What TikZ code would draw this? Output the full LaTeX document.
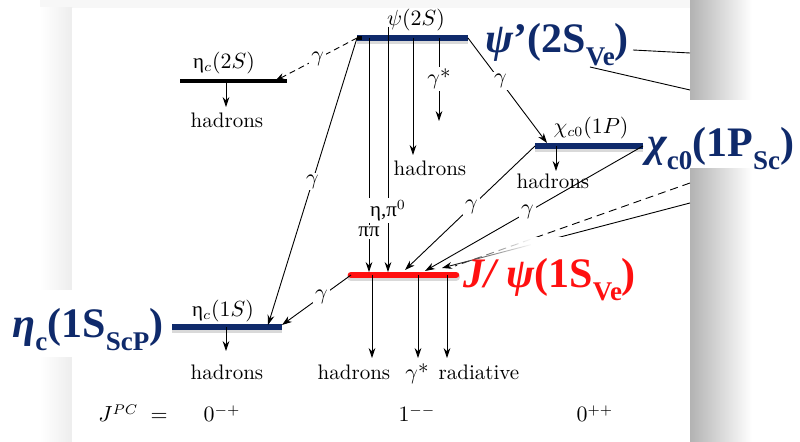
\documentclass[tikz,border=0pt]{standalone}
\usepackage{fontspec}
\usetikzlibrary{arrows.meta,positioning,fadings}
\newfontfamily\labfont{Liberation Serif}
\definecolor{levblue}{HTML}{0F2A6B}
\definecolor{levred}{HTML}{FF1010}
\newcommand{\lsub}[1]{\raisebox{-0.3em}{\fontsize{13.5}{14}\selectfont #1}}
\newcommand{\ug}[1]{{\labfont #1}}
\tikzfading[name=glowfade,left color=transparent!100,right color=transparent!0]

\begin{document}
\begin{tikzpicture}[x=0.5pt,y=-0.5pt,
			lev/.style={line width=2.6pt,levblue,preaction={draw=gray!30,line width=3.8pt,transform canvas={yshift=-1pt}}},
			tr/.style={-{Stealth[length=5pt,width=3.4pt]},line width=0.45pt},
			lab/.style={font=\fontsize{10.5}{12}\selectfont,inner sep=1pt},
			gam/.style={fill=white,inner sep=1pt,font=\fontsize{10.5}{12}\selectfont},
			big/.style={font=\labfont\fontsize{21}{24}\selectfont\bfseries,inner sep=0pt,text=levblue,anchor=base west}
			]
			\useasboundingbox (0,0) rectangle (800,442);
			% frame and shadow of the figure
			\fill[white] (0,0) rectangle (800,442);
			\fill[gray!6] (40,0) rectangle (720,8);
			\shade[left color=white,right color=gray!14] (40,8) rectangle (72,442);
			\shade[left color=gray!60,right color=white] (690,0) rectangle (752,442);
			\fill[white] (690,100) rectangle (800,168);
			\fill[white] (0,290) rectangle (72,357);
			\fill[white] (72,8) rectangle (690,442);

			% levels
			\coordinate (p2L) at (357,38);  \coordinate (p2R) at (468,38);
			\coordinate (e2L) at (180,81);  \coordinate (e2R) at (287,81);
			\coordinate (e1L) at (172,327); \coordinate (e1R) at (282,327);
			\coordinate (jL) at (351,275);  \coordinate (jR) at (456,275);
			\coordinate (cL) at (535,146);  \coordinate (cR) at (643,146);

			% lines running off to the right
			\coordinate (r1) at (633,50);  \coordinate (r1e) at (690,53);
			\coordinate (r2) at (590,67);  \coordinate (r2e) at (690,90);
			\coordinate (r3) at (690,183); \coordinate (r3e) at (455,266);
			\coordinate (r4) at (690,203); \coordinate (r4e) at (442,268);
			\draw[line width=0.45pt] (r1) -- (r1e);
			\draw[line width=0.45pt] (r2) -- (r2e);
			\draw[line width=0.45pt,dash pattern=on 4pt off 2.5pt] (r3) -- (r3e);
			\draw[tr] (r4) -- (r4e);
			\fill[white,path fading=glowfade] (448,237) rectangle (532,305);
			\fill[white] (531,237) rectangle (690,305);

			\draw[line width=1.6pt] (e2L) -- (e2R);
			\draw[lev] (p2L) -- (p2R);
			\draw[line width=1.6pt] (p2L) -- ++(5,0);
			\draw[lev] (e1L) -- (e1R);
			\draw[lev] (cL) -- (cR);
			\draw[line width=3.3pt,levred,line cap=round,preaction={draw=gray!30,line width=4pt,line cap=round,transform canvas={yshift=-1pt}}] (jL) -- (jR);

			\node[lab] (p2lab) at (416,20) {$\psi(2S)$};
			\node[lab] (e2lab) at (224,63) {\ug{η}$_c(2S)$};
			\node[lab] (e1lab) at (223,311) {\ug{η}$_c(1S)$};
			\node[lab] (clab) at (591,128) {$\chi_{c0}(1P)$};

			% psi(2S) decays
			\coordinate (a1) at (369,38);  \coordinate (a1e) at (369,272);
			\coordinate (a2) at (388,27);  \coordinate (a2e) at (388,272);
			\coordinate (a3) at (413,38);  \coordinate (a3e) at (413,155);
			\coordinate (a4) at (439,38);  \coordinate (a4e) at (439,121);
			\draw[tr] (a1) -- node[gam,pos=0.83] {\ug{ππ}} (a1e);
			\draw[tr] (a2) -- node[gam,pos=0.75] {\ug{η,π}$^0$} (a2e);
			\draw[tr] (a3) -- (a3e);
			\node[lab] (h1) at (430,168) {hadrons};
			\draw[tr] (a4) -- node[gam,pos=0.49] {$\gamma$*} (a4e);

			% radiative transitions
			\coordinate (e2t) at (275,81);
			\coordinate (e1t) at (268,325); \coordinate (e1t2) at (282,325);
			\coordinate (ct) at (547,143);
			\coordinate (jt1) at (405,270); \coordinate (jt2) at (425,271);
			\draw[tr,dash pattern=on 3pt off 2pt] (p2L) -- node[gam,pos=0.48] {$\gamma$} (e2t);
			\draw[tr] (p2L) -- node[gam,pos=0.5] {$\gamma$} (e1t);
			\draw[tr] (jL) -- node[gam,pos=0.43] {$\gamma$} (e1t2);
			\draw[tr] (p2R) -- node[gam,pos=0.41] {$\gamma$} (ct);
			\draw[tr] (cL) -- node[gam,pos=0.49] {$\gamma$} (jt1);
			\draw[tr] (cR) -- node[gam,pos=0.53] {$\gamma$} (jt2);

			% hadronic decays of the other levels
			\coordinate (b1) at (226,81);  \coordinate (b1e) at (226,107);
			\coordinate (b2) at (226,327); \coordinate (b2e) at (226,351);
			\coordinate (b3) at (556,146); \coordinate (b3e) at (556,171);
			\draw[tr] (b1) -- (b1e);
			\draw[tr] (b2) -- (b2e);
			\draw[tr] (b3) -- (b3e);
			\node[lab] (h2) at (227,120) {hadrons};
			\node[lab] (h3) at (227,372) {hadrons};
			\node[lab] (h4) at (553,181) {hadrons};

			% J/psi decays
			\coordinate (d1) at (372,275); \coordinate (d1e) at (372,358);
			\coordinate (d2) at (418,275); \coordinate (d2e) at (418,358);
			\coordinate (d3) at (447,275); \coordinate (d3e) at (447,358);
			\draw[tr] (d1) -- (d1e);
			\draw[tr] (d2) -- (d2e);
			\draw[tr] (d3) -- (d3e);
			\node[lab,anchor=base] (h5) at (354,380) {hadrons};
			\node[lab,anchor=base] (g5) at (417,380) {$\gamma$*};
			\node[lab,anchor=base] (rad) at (479,380) {radiative};

			% quantum numbers
			\node[lab,anchor=base] (jpc) at (133,422) {$J^{PC}\;=$};
			\node[lab,anchor=base] (q1) at (222,422) {$0^{-+}$};
			\node[lab,anchor=base] (q2) at (417,422) {$1^{--}$};
			\node[lab,anchor=base] (q3) at (595,422) {$0^{++}$};

			% state names
			\node[big] (psilab) at (485,53) {\itshape ψ\upshape’(2S\lsub{Ve})};
			\node[big] (chilab) at (647,157) {\itshape χ\upshape\lsub{c0}(1P\lsub{Sc})};
			\node[big,text=levred] (jlab) at (463,288) {\itshape J/ ψ\upshape(1S\lsub{Ve})};
			\node[big] (etalab) at (12,338) {\itshape η\upshape\lsub{c}(1S\lsub{ScP})};
		\end{tikzpicture}
\end{document}
